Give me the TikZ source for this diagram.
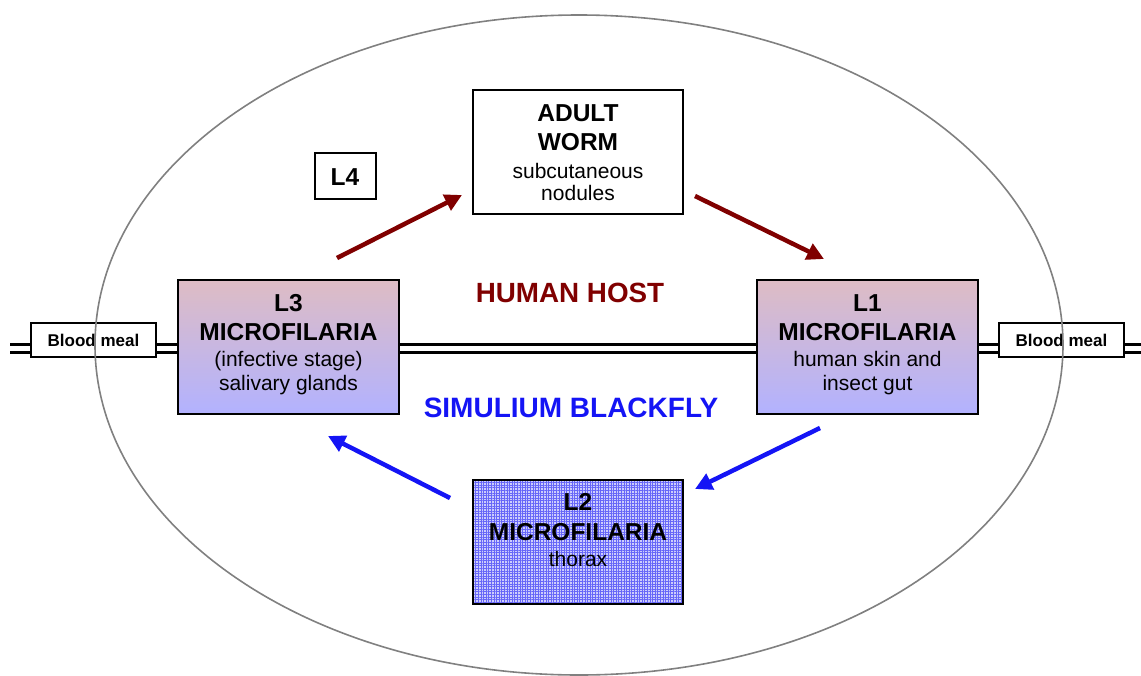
\documentclass[tikz,border=0pt]{standalone}
\usepackage{fontspec}
\setmainfont{Liberation Sans}
\usetikzlibrary{arrows.meta,patterns.meta}
\definecolor{hostred}{RGB}{128,0,0}
\definecolor{flyblue}{RGB}{20,20,245}
\definecolor{gradtop}{RGB}{222,188,196}
\definecolor{gradbot}{RGB}{178,178,255}
\definecolor{ellgray}{RGB}{128,128,128}
\tikzset{
  stagebox/.style={draw=black, line width=2.5pt, inner sep=0pt},
  plainbox/.style={draw=black, line width=2pt, fill=white, inner sep=0pt},
  gradbox/.style={stagebox, top color=gradtop, bottom color=gradbot, minimum width=221pt, minimum height=134pt},
  mealbox/.style={draw=black, line width=1.8pt, fill=white, minimum width=125pt, minimum height=34pt, font=\fontsize{17}{20}\selectfont\bfseries},
  pipe/.style={draw=black, line width=3pt, double=white, double distance=5pt},
  hostarrow/.style={draw=hostred, line width=4.5pt, -{Triangle[length=17pt,width=17pt]}},
  flyarrow/.style={draw=flyblue, line width=4.5pt, -{Triangle[length=17pt,width=17pt]}},
  bigline/.style={anchor=base, inner sep=0pt, font=\fontsize{24.5}{29}\selectfont\bfseries},
  smallline/.style={anchor=base, inner sep=0pt, font=\fontsize{21}{25}\selectfont}
}
\begin{document}
\begin{tikzpicture}[x=1pt,y=-1pt]
\useasboundingbox (0,0) rectangle (1141,675);
% boxes
\node[gradbox] (l3) at (288.5,347) {};
\node[gradbox] (l1) at (867.5,347) {};
\node[plainbox, minimum width=210pt, minimum height=124pt] (adult) at (578,152) {};
\node[plainbox, minimum width=61pt, minimum height=46pt] (l4) at (345.5,176) {};
% L2 patterned box
\node[minimum width=210pt, minimum height=124pt, inner sep=0pt, fill={rgb,255:red,205;green,205;blue,252}] (l2bg) at (578,542) {};
\fill[pattern={Lines[angle=0,distance=2.6pt,line width=0.9pt]}, pattern color=flyblue!65] (l2bg.north west) rectangle (l2bg.south east);
\fill[pattern={Lines[angle=90,distance=2.6pt,line width=0.9pt]}, pattern color=flyblue!65] (l2bg.north west) rectangle (l2bg.south east);
\node[stagebox, minimum width=210pt, minimum height=124pt] (l2) at (578,542) {};
% box texts
\node[bigline] (t4) at (345,185) {L4};
\node[bigline] (ta1) at (578,121) {ADULT};
\node[bigline] (ta2) at (578,150.5) {WORM};
\node[smallline] (ta3) at (578,178) {subcutaneous};
\node[smallline] (ta4) at (578,200.5) {nodules};
\node[bigline] (t31) at (288.5,311.5) {L3};
\node[bigline] (t32) at (288.5,340) {MICROFILARIA};
\node[smallline] (t33) at (288.5,366.5) {(infective stage)};
\node[smallline] (t34) at (288.5,390) {salivary glands};
\node[bigline] (t11) at (867.5,311) {L1};
\node[bigline] (t12) at (867.5,340.5) {MICROFILARIA};
\node[smallline] (t13) at (867.5,366) {human skin and};
\node[smallline] (t14) at (867.5,390.5) {insect gut};
\node[bigline] (t21) at (578,510.5) {L2};
\node[bigline] (t22) at (578,540.5) {MICROFILARIA};
\node[smallline] (t23) at (578,566) {thorax};
% blood meal boxes
\node[mealbox] (bml) at (93.5,340) {Blood meal};
\node[mealbox] (bmr) at (1061.5,340) {Blood meal};
% pipes
\coordinate (pl) at (10,348);
\coordinate (pr) at (1141,348);
\draw[pipe] (pl) -- (bml.west |- pl);
\draw[pipe] (bml.east |- pl) -- (l3.west |- pl);
\draw[pipe] (l3.east |- pl) -- (l1.west |- pl);
\draw[pipe] (l1.east |- pl) -- (bmr.west |- pl);
\draw[pipe] (bmr.east |- pl) -- (pr);
% arrows
\coordinate (a1s) at (337,258); \coordinate (a1e) at (462,195);
\coordinate (a2s) at (695,196); \coordinate (a2e) at (824,259);
\coordinate (a3s) at (820,428); \coordinate (a3e) at (695,489);
\coordinate (a4s) at (450,498); \coordinate (a4e) at (328,436);
\draw[hostarrow] (a1s) -- (a1e);
\draw[hostarrow] (a2s) -- (a2e);
\draw[flyarrow] (a3s) -- (a3e);
\draw[flyarrow] (a4s) -- (a4e);
% labels
\node[text=hostred, font=\fontsize{27.8}{32}\selectfont\bfseries] (hh) at (570,293) {HUMAN HOST};
\node[text=flyblue, font=\fontsize{28}{32}\selectfont\bfseries] (sb) at (571,408) {SIMULIUM BLACKFLY};
% ellipse
\draw[ellgray, line width=1.6pt] (579,345) ellipse [x radius=484pt, y radius=330pt];
\end{tikzpicture}
\end{document}
